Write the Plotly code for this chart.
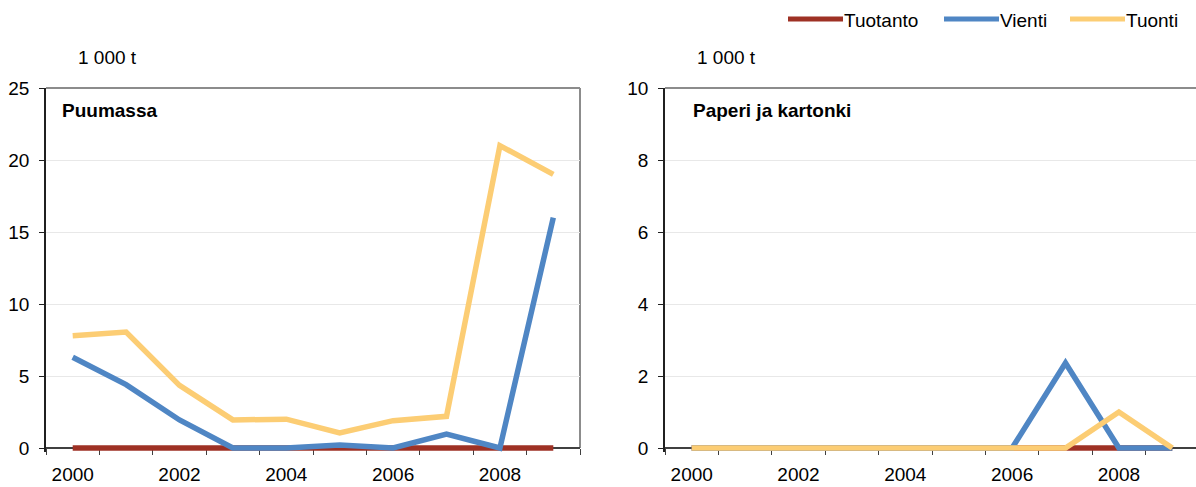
import plotly.graph_objects as go

# ── Data (1 000 t) ───────────────────────────────────────────────────────────
years = [2000, 2001, 2002, 2003, 2004, 2005, 2006, 2007, 2008, 2009]
tick_years = [2000, 2002, 2004, 2006, 2008]

series_names = ["Tuotanto", "Vienti", "Tuonti"]
series_colors = ["#9E3124", "#4F86C4", "#FCCD74"]

# Puumassa
puu_tuotanto = [0, 0, 0, 0, 0, 0, 0, 0, 0, 0]
puu_vienti = [6.3, 4.4, 1.95, 0, 0, 0.2, 0, 0.97, 0, 16.0]
puu_tuonti = [7.8, 8.05, 4.35, 1.95, 2.0, 1.05, 1.9, 2.2, 21.0, 19.0]

# Paperi ja kartonki
pap_tuotanto = [0, 0, 0, 0, 0, 0, 0, 0, 0, 0]
pap_vienti = [0, 0, 0, 0, 0, 0, 0, 2.36, 0, 0]
pap_tuonti = [0, 0, 0, 0, 0, 0, 0, 0, 1.0, 0]

W, H = 1196, 487
FONT = "Liberation Sans, Arial, sans-serif"
FS = 19


def px_x(p):
    return p / W


def px_y(p):
    return (H - p) / H


fig = go.Figure()

panels = [
    ("x", "y", [puu_tuotanto, puu_vienti, puu_tuonti]),
    ("x2", "y2", [pap_tuotanto, pap_vienti, pap_tuonti]),
]
for xa, ya, values in panels:
    for name, color, vals in zip(series_names, series_colors, values):
        fig.add_trace(
            go.Scatter(
                x=years,
                y=vals,
                mode="lines",
                name=name,
                line=dict(color=color, width=5.5),
                xaxis=xa,
                yaxis=ya,
                showlegend=False,
            )
        )

# plot area: value 0 sits at 448 px, top (max) at 88 px; the area reaches 4 px
# lower so the zero-value lines are not clipped in half
Y0_PX, YTOP_PX, PAD_PX = 448, 88, 4
y_dom = [px_y(Y0_PX + PAD_PX), px_y(YTOP_PX)]
left_dom = [px_x(46), px_x(580)]
# right panel runs past the canvas edge (plot area would end at ~1199 px)
right_dom = [px_x(665), 1.0]
right_end = 1999.5 + 10 * (W - 665) / (1199 - 665)


def y_range(top):
    return [-top * PAD_PX / (Y0_PX - YTOP_PX), top]


xaxis_common = dict(
    anchor="free",
    position=px_y(Y0_PX),
    tickmode="array",
    tickvals=tick_years,
    ticks="outside",
    ticklen=6,
    tickcolor="rgba(0,0,0,0)",
    ticklabelstandoff=3,
    showgrid=False,
    showline=True,
    linecolor="#404040",
    linewidth=2,
    layer="below traces",
    zeroline=False,
    automargin=False,
    tickfont=dict(family=FONT, size=FS, color="#000000"),
    minor=dict(ticks="outside", tickmode="linear", tick0=1999.5, dtick=1,
               ticklen=6, tickcolor="#404040", tickwidth=1, showgrid=False),
    fixedrange=True,
)
yaxis_common = dict(
    showgrid=True,
    gridcolor="#E8E8E8",
    gridwidth=1,
    showline=True,
    linecolor="#202020",
    linewidth=1.5,
    ticks="outside",
    ticklen=5,
    tickcolor="#202020",
    ticklabelstandoff=6,
    zeroline=False,
    automargin=False,
    tickfont=dict(family=FONT, size=FS, color="#000000"),
    domain=y_dom,
    fixedrange=True,
)

fig.update_layout(
    width=W,
    height=H,
    paper_bgcolor="white",
    plot_bgcolor="white",
    margin=dict(l=0, r=0, t=0, b=0),
    font=dict(family=FONT, size=FS, color="#000000"),
    xaxis=dict(xaxis_common, domain=left_dom, range=[1999.5, 2009.5]),
    yaxis=dict(yaxis_common, range=y_range(25), tickvals=[0, 5, 10, 15, 20, 25], anchor="x"),
    xaxis2=dict(xaxis_common, domain=right_dom, range=[1999.5, right_end]),
    yaxis2=dict(yaxis_common, range=y_range(10), tickvals=[0, 2, 4, 6, 8, 10], anchor="x2"),
    showlegend=False,
    hovermode=False,
)

# Gray frame: top and right edges of each plot area
frame = dict(type="line", xref="paper", yref="paper", line=dict(color="#8C8C8C", width=2), layer="below")
for dom in (left_dom, right_dom):
    fig.add_shape(frame, x0=dom[0], x1=dom[1], y0=y_dom[1], y1=y_dom[1])
fig.add_shape(frame, x0=left_dom[1], x1=left_dom[1], y0=px_y(Y0_PX), y1=y_dom[1])

# Legend (Excel style: long line sample directly followed by the label)
legend_x = [788, 944, 1070]
for x0, name, color in zip(legend_x, series_names, series_colors):
    fig.add_shape(type="line", xref="paper", yref="paper",
                  x0=px_x(x0), x1=px_x(x0 + 55), y0=px_y(19), y1=px_y(19),
                  line=dict(color=color, width=5))
    fig.add_annotation(x=px_x(x0 + 56), y=px_y(20), xref="paper", yref="paper",
                       text=name, showarrow=False, xanchor="left", yanchor="middle",
                       xshift=-2, font=dict(family=FONT, size=FS, color="#000000"))

# Unit labels and panel titles
for x_unit, x_title, title in ((78, 62, "Puumassa"), (697, 693, "Paperi ja kartonki")):
    fig.add_annotation(
        x=px_x(x_unit), y=px_y(57), xref="paper", yref="paper",
        text="1 000 t", showarrow=False, xanchor="left", yanchor="middle",
        xshift=-2, font=dict(family=FONT, size=FS, color="#000000"),
    )
    fig.add_annotation(
        x=px_x(x_title), y=px_y(110), xref="paper", yref="paper",
        text=f"<b>{title}</b>", showarrow=False, xanchor="left", yanchor="middle",
        xshift=-2, font=dict(family=FONT, size=FS, color="#000000"),
    )

# drop the default 8px page margin so the figure sits at the window's corner
fig.write_html(
    "out.html",
    config={"displayModeBar": False},
    post_script="document.body.style.margin='0';document.body.style.overflow='hidden';",
)
